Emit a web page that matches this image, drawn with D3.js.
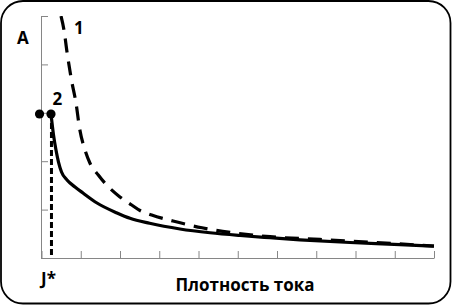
<!DOCTYPE html>
<html>
<head>
<meta charset="utf-8">
<script src="https://cdn.jsdelivr.net/npm/d3@7"></script>
<style>
  html, body { margin: 0; padding: 0; background: #fff; }
  svg { display: block; }
  text { font-family: "Open Sans", "Noto Sans", sans-serif; font-weight: bold; fill: #000; }
</style>
</head>
<body>
<svg id="chart" width="452" height="305"></svg>
<script>
// Data (x in units of current-density ticks, y in units of A ticks)
const curve1X = [0.497, 0.573, 0.650, 0.759, 0.887, 0.963, 1.108, 1.236, 1.447, 1.618, 1.990, 2.298, 2.510, 2.808, 3.350, 4.089, 4.879, 5.822, 7.095, 8.930, 10];
const curve1Y = [5.0, 4.711, 4.256, 3.698, 3.161, 2.713, 2.231, 1.957, 1.715, 1.545, 1.267, 1.095, 0.981, 0.888, 0.764, 0.624, 0.523, 0.440, 0.384, 0.300, 0.248];
const curve2X = [0.242, 0.306, 0.369, 0.433, 0.510, 0.650, 0.854, 1.057, 1.414, 1.924, 2.255, 2.755, 3.529, 4.293, 5.057, 5.822, 6.586, 7.860, 9.134, 10];
const curve2Y = [2.975, 2.541, 2.231, 1.983, 1.777, 1.612, 1.467, 1.343, 1.136, 0.930, 0.820, 0.717, 0.599, 0.521, 0.465, 0.419, 0.376, 0.320, 0.277, 0.244];
const markerX = [-0.05, 0.242];
const markerY = [2.975, 2.975];
const jStar = 0.254;
const xTicks = [0, 1, 2, 3, 4, 5, 6, 7, 8, 9, 10];
const yTicks = [0, 1, 2, 3, 4, 5];
const labels = { yAxis: "A", xAxis: "Плотность тока", jStar: "J*", c1: "1", c2: "2" };

const svg = d3.select("#chart");
const x = d3.scaleLinear().domain([0, 10]).range([41.5, 434]);
const y = d3.scaleLinear().domain([0, 5]).range([258, 16]);

// Frame
svg.append("rect")
  .attr("x", 1).attr("y", 1).attr("width", 449.5).attr("height", 302.5)
  .attr("rx", 22).attr("ry", 22)
  .attr("fill", "#fff").attr("stroke", "#000").attr("stroke-width", 1.8);

// Clip for curve 1 (cut at top of plot)
svg.append("clipPath").attr("id", "plot")
  .append("rect").attr("x", 30).attr("y", 16).attr("width", 410).attr("height", 250);

// Axes
const gx = svg.append("g").attr("transform", "translate(0,258)")
  .call(d3.axisBottom(x).tickValues(xTicks).tickSize(-7).tickSizeOuter(0).tickFormat(""));
const gy = svg.append("g").attr("transform", "translate(41,0)")
  .call(d3.axisLeft(y).tickValues(yTicks).tickSize(-7).tickSizeOuter(0).tickFormat(""));
[gx, gy].forEach(g => {
  g.selectAll("path, line").attr("stroke", "#868686").attr("stroke-width", 1);
});

// Vertical J* line
svg.append("line")
  .attr("x1", x(jStar)).attr("x2", x(jStar))
  .attr("y1", y(markerY[1])).attr("y2", y(0))
  .attr("stroke", "#000").attr("stroke-width", 3).attr("stroke-dasharray", "6,3");

const line = d3.line().x(d => x(d[0])).y(d => y(d[1])).curve(d3.curveMonotoneX);

const c1 = curve1X.map((v, i) => [v, curve1Y[i]]);
const c2 = curve2X.map((v, i) => [v, curve2Y[i]]);

svg.append("path").attr("d", line(c1))
  .attr("clip-path", "url(#plot)")
  .attr("fill", "none").attr("stroke", "#000").attr("stroke-width", 3.2)
  .attr("stroke-dasharray", "14,9");

svg.append("path").attr("d", line(c2))
  .attr("fill", "none").attr("stroke", "#000").attr("stroke-width", 3.2);

// Markers
svg.selectAll("circle.m").data(markerX).enter().append("circle")
  .attr("class", "m")
  .attr("cx", d => x(d)).attr("cy", (d, i) => y(markerY[i])).attr("r", 4.6)
  .attr("fill", "#000");

// Labels
svg.append("text").attr("x", 17).attr("y", 44).attr("font-size", 17).text(labels.yAxis);
svg.append("text").attr("x", 74).attr("y", 34).attr("font-size", 17).text(labels.c1);
svg.append("text").attr("x", 52.5).attr("y", 105).attr("font-size", 17).text(labels.c2);
svg.append("text").attr("x", 41).attr("y", 285).attr("font-size", 17).text(labels.jStar);
svg.append("text").attr("x", 245).attr("y", 291).attr("font-size", 17).attr("text-anchor", "middle").text(labels.xAxis);
</script>
</body>
</html>
